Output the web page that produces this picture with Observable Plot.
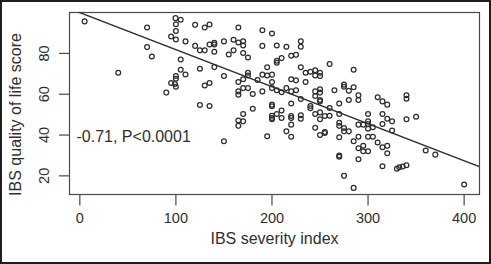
<!DOCTYPE html>
<html>
<head>
<meta charset="utf-8">
<script src="https://cdn.jsdelivr.net/npm/d3@7"></script>
<script src="https://cdn.jsdelivr.net/npm/@observablehq/plot@0.6"></script>
<style>
  html, body { margin: 0; padding: 0; background: #fff; }
  #wrap { position: relative; width: 491px; height: 264px; overflow: hidden; }
  #border { position: absolute; left: 0; top: 0; width: 491px; height: 264px; box-sizing: border-box; border: 2px solid #1e1e1e; pointer-events: none; }
</style>
</head>
<body>
<div id="wrap"><div id="border"></div></div>
<script>
// IBS severity index (x) and IBS quality of life score (y)
const severity = [
  5, 40, 70, 70, 75, 90, 95, 95, 99.6, 100, 100, 100, 100, 100, 100, 99, 105, 105, 105, 110,
  110, 120, 120, 125, 125, 125, 130, 130, 130, 135, 135, 135, 135, 140, 140, 140, 140, 150, 150, 150,
  155, 160, 160, 165, 165, 165, 165, 165, 165, 165, 170, 170, 170, 170, 170, 170, 170, 175, 175, 175,
  175, 180, 180, 185, 190, 190, 190, 190, 195, 195, 195, 200, 200, 200, 200, 200, 200, 200, 200, 200,
  205, 205, 205, 205, 205, 210, 210, 210, 210, 215, 215, 215, 220, 220, 220, 220, 220, 220, 220, 220,
  225, 225, 225, 230, 230, 230, 230, 230, 230, 235, 235, 240, 240, 240, 245, 245, 245, 245, 245, 245,
  250, 250, 250, 250, 250, 250, 250, 250, 250, 255, 255, 255, 260, 260, 260, 265, 270, 270, 270, 270,
  270, 270, 270, 275, 275, 275, 275, 275, 280, 280, 280, 285, 285, 285, 285, 290, 290, 290, 290, 290,
  290, 295, 295, 295, 300, 300, 300, 300, 300, 300, 305, 305, 310, 310, 315, 315, 315, 315, 315, 320,
  320, 320, 320, 325, 325, 330, 332.5, 336, 340, 340, 340, 340, 350, 360, 370, 400
];
const qol = [
  95.7, 70.5, 92.7, 83.1, 78.5, 60.8, 65.5, 88.3, 97.3, 94.3, 91, 86.8, 68.9, 67.6, 63.7, 65, 96.5, 77, 72, 85.9,
  69.7, 94, 83.7, 81.5, 72.5, 54.7, 92.7, 81.5, 64.3, 94.2, 84.4, 65.5, 54.2, 85.2, 84.4, 80.8, 73.3, 85.9, 68.9, 37,
  79.5, 86.7, 81.5, 92.7, 85.4, 66, 61.4, 59.8, 47.1, 44.5, 86, 83.9, 80.2, 67.3, 63, 50.3, 46.7, 78, 70.5, 69.2,
  63, 60.1, 52.9, 67, 91.4, 83.7, 69.6, 61.4, 73.2, 69.2, 39.4, 89.8, 69.6, 66, 63, 54.9, 54.1, 49.5, 48.4, 47.7,
  83.9, 76.4, 75.4, 62, 50.3, 77.7, 61, 52, 48.4, 83.3, 63, 41.8, 78.9, 67.3, 61.4, 55.5, 49.3, 48.4, 45.1, 39.2,
  79.3, 66.8, 62, 86, 83.3, 73.2, 57.7, 49.7, 48, 70.5, 66, 71, 54.2, 53.1, 71.8, 69.2, 61.4, 59.1, 50.3, 43.6,
  70.5, 68.9, 62.4, 60.8, 57.2, 56.5, 51.1, 47.7, 40, 49.3, 41.5, 41, 74.8, 53.3, 49.5, 62, 55.5, 50.3, 46, 44.5,
  38.9, 30, 29.4, 64.7, 63.7, 43.5, 41.8, 20, 61.7, 57.2, 41.8, 72, 63.4, 37, 14.1, 59.5, 57.2, 45.1, 39.2, 33.5,
  28.1, 45.1, 34.8, 32.1, 50.3, 46.7, 45.4, 43.1, 39.2, 32.1, 43.8, 39.2, 58.5, 36.3, 56.5, 50.3, 45.4, 34, 24.7, 54.9,
  48, 34.7, 31.1, 46.7, 42.2, 23.5, 24.2, 24.6, 59.5, 57.8, 47.7, 25.2, 49, 32.4, 30.4, 15.8
];
// Fitted regression line
const fitIntercept = 100;
const fitSlope = -0.1815;
const correlationNote = "-0.71, P<0.0001";
const xTicks = [0, 100, 200, 300, 400];
const yTicks = [20, 40, 60, 80];
const xTitle = "IBS severity index";
const yTitle = "IBS quality of life score";

const points = severity.map((s, i) => ({x: s, y: qol[i]}));
const xDomain = [-10.75, 416];
const yDomain = [10.86, 100.06];
const fitLine = xDomain.map(x => ({x, y: fitIntercept + fitSlope * x}));

const ink = "#2f2f2f";
const chart = Plot.plot({
  width: 491,
  height: 264,
  marginLeft: 69,
  marginRight: 12,
  marginTop: 12,
  marginBottom: 70,
  style: {fontFamily: "'Liberation Sans', Arial, sans-serif", color: ink, background: "transparent"},
  x: {domain: xDomain},
  y: {domain: yDomain},
  marks: [
    Plot.frame({stroke: "#4a4a4a", strokeWidth: 1.2}),
    Plot.axisX({ticks: xTicks, tickSize: 11.5, tickPadding: 7, fontSize: 14.5, label: null, stroke: "#4a4a4a", strokeWidth: 1.2, fill: ink}),
    Plot.axisY({ticks: yTicks, tickSize: 10, tickFormat: () => "", label: null, stroke: "#4a4a4a", strokeWidth: 1.2}),
    Plot.text(yTicks, {y: d => d, text: d => String(d), frameAnchor: "left", dx: -25, rotate: -90, fontSize: 14.5, fill: ink, textAnchor: "middle"}),
    Plot.line(fitLine, {x: "x", y: "y", stroke: ink, strokeWidth: 1.4, clip: true}),
    Plot.dot(points, {x: "x", y: "y", r: 2.4, stroke: ink, strokeWidth: 1.25, fill: "none"}),
    Plot.text([correlationNote], {frameAnchor: "top-left", dx: 7, dy: 118, fontSize: 16, fill: ink, textAnchor: "start"}),
    Plot.text([xTitle], {frameAnchor: "bottom", dy: 49.5, fontSize: 16, fill: ink}),
    Plot.text([yTitle], {frameAnchor: "left", dx: -54, dy: 11, rotate: -90, fontSize: 16, fill: ink, textAnchor: "middle"})
  ]
});
document.getElementById("wrap").insertBefore(chart, document.getElementById("border"));
</script>
</body>
</html>
